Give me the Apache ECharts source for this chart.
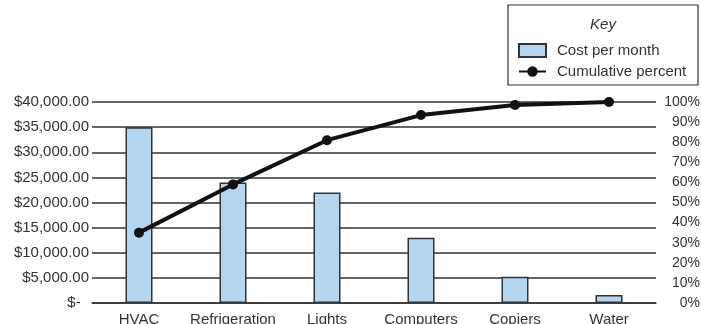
<!DOCTYPE html>
<html>
<head>
<meta charset="utf-8">
<script src="https://cdn.jsdelivr.net/npm/echarts@6/dist/echarts.min.js"></script>
<style>
html,body{margin:0;padding:0;background:#fff;}
#c{width:701px;height:324px;}
</style>
</head>
<body>
<div id="c"></div>
<script>
var categories = ['HVAC', 'Refrigeration', 'Lights', 'Computers', 'Copiers', 'Water'];
var costPerMonth = [35000, 24000, 22000, 13000, 5200, 1600];
var cumulativePercent = [35, 59, 81, 93.5, 98.5, 100];
var leftTicks = { min: 0, max: 40000, interval: 5000 };
var rightTicks = { min: 0, max: 100, interval: 10 };

var font = 'Liberation Sans, Arial, sans-serif';
var chart = echarts.init(document.getElementById('c'), null, { renderer: 'canvas' });

function money(v) {
  if (v === 0) return '$-  ';
  return '$' + v.toLocaleString('en-US', { minimumFractionDigits: 2, maximumFractionDigits: 2 });
}

chart.setOption({
  animation: false,
  backgroundColor: '#fff',
  textStyle: { fontFamily: font },
  grid: { left: 92, right: 45, top: 102, bottom: 21, containLabel: false, outerBoundsMode: 'none' },
  graphic: [
    { type: 'rect', shape: { x: 508, y: 5, width: 190, height: 80 },
      style: { fill: 'none', stroke: '#333', lineWidth: 1.2 }, z: 10 },
    { type: 'text', x: 603, y: 25,
      style: { text: 'Key', font: 'italic 15px ' + font, fill: '#333', align: 'center', verticalAlign: 'middle' }, z: 10 }
  ],
  legend: {
    orient: 'vertical',
    left: 518, top: 43,
    padding: 0,
    itemWidth: 27, itemHeight: 13, itemGap: 6,
    textStyle: { fontSize: 15, color: '#333', fontFamily: font, padding: [0, 0, 0, 6] },
    data: [
      { name: 'Cost per month', icon: 'rect' },
      { name: 'Cumulative percent' }
    ]
  },
  xAxis: {
    type: 'category',
    data: categories,
    boundaryGap: true,
    axisLine: { show: true, lineStyle: { color: '#333', width: 1.5 } },
    axisTick: { show: false },
    axisLabel: { fontSize: 15, color: '#333', margin: 9, interval: 0, fontFamily: font }
  },
  yAxis: [
    {
      type: 'value',
      min: leftTicks.min, max: leftTicks.max, interval: leftTicks.interval,
      axisLine: { show: false },
      axisTick: { show: false },
      splitLine: { show: true, lineStyle: { color: '#333', width: 1.6 } },
      axisLabel: { fontSize: 15, color: '#333', margin: 3, fontFamily: font, formatter: money }
    },
    {
      type: 'value',
      min: rightTicks.min, max: rightTicks.max, interval: rightTicks.interval,
      axisLine: { show: false },
      axisTick: { show: false },
      splitLine: { show: false },
      axisLabel: { fontSize: 14, color: '#333', margin: 44, align: 'right', fontFamily: font,
        formatter: function (v) { return v + '%'; } }
    }
  ],
  series: [
    {
      name: 'Cost per month',
      type: 'bar',
      data: costPerMonth,
      barWidth: 27,
      itemStyle: { color: '#b5d6f0', borderColor: '#333', borderWidth: 1.5 },
      z: 2
    },
    {
      name: 'Cumulative percent',
      type: 'line',
      yAxisIndex: 1,
      data: cumulativePercent,
      symbol: 'circle',
      symbolSize: 10,
      lineStyle: { color: '#111', width: 4 },
      itemStyle: { color: '#111' },
      z: 5
    }
  ]
});
</script>
</body>
</html>
